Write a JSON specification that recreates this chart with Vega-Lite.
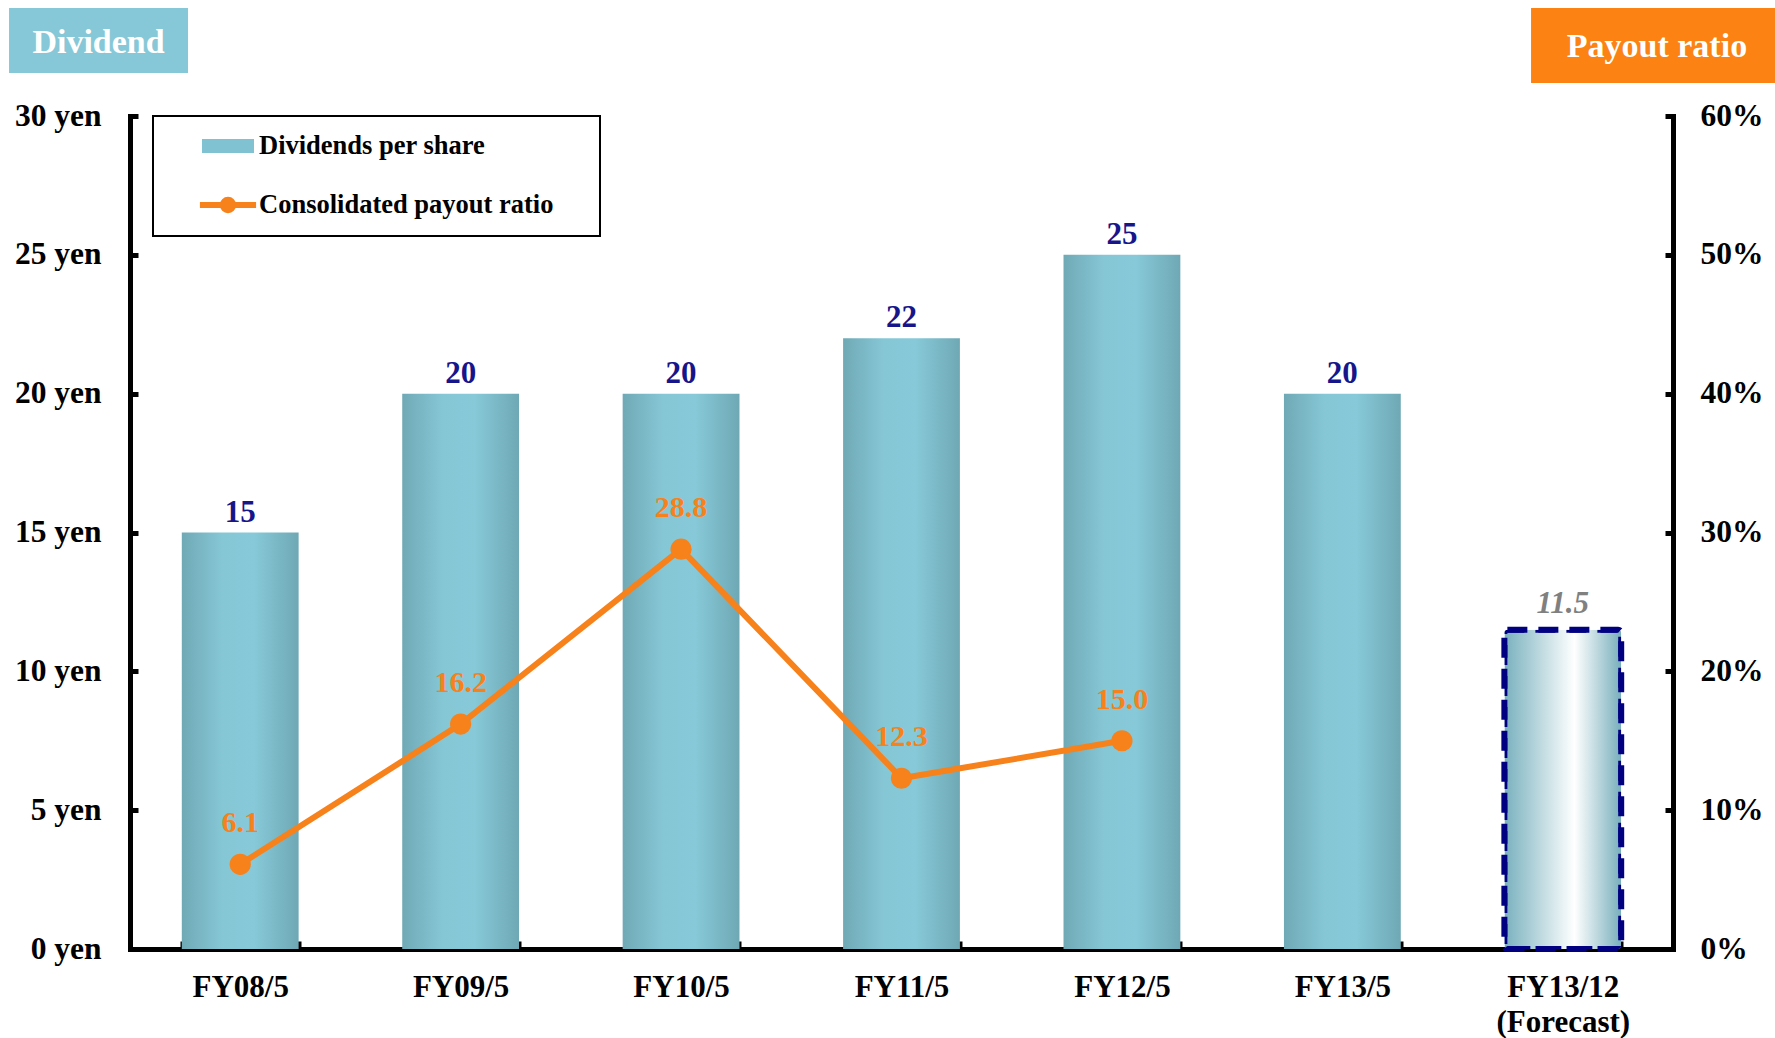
{
  "$schema": "https://vega.github.io/schema/vega-lite/v6.json",
  "width": 1543,
  "height": 833,
  "autosize": {"type": "none"},
  "padding": {"left": 130, "top": 116, "right": 102, "bottom": 89},
  "background": "white",
  "config": {
    "view": {"stroke": null},
    "font": "Liberation Serif",
    "text": {"font": "Liberation Serif", "fontWeight": "bold"}
  },
  "datasets": {
    "dividends": [
      {"fy": "FY08/5", "dividend": 15, "payout": 6.1, "status": "actual"},
      {"fy": "FY09/5", "dividend": 20, "payout": 16.2, "status": "actual"},
      {"fy": "FY10/5", "dividend": 20, "payout": 28.8, "status": "actual"},
      {"fy": "FY11/5", "dividend": 22, "payout": 12.3, "status": "actual"},
      {"fy": "FY12/5", "dividend": 25, "payout": 15.0, "status": "actual"},
      {"fy": "FY13/5", "dividend": 20, "payout": null, "status": "actual"},
      {"fy": "FY13/12", "dividend": 11.5, "payout": null, "status": "forecast"}
    ],
    "series": [
      {"series": "Dividends per share"},
      {"series": "Consolidated payout ratio"}
    ],
    "leftHeader": [{"label": "Dividend"}],
    "rightHeader": [{"label": "Payout ratio"}]
  },
  "layer": [
    {
      "layer": [
        {
          "data": {"name": "dividends"},
          "encoding": {
            "x": {
              "field": "fy",
              "type": "nominal",
              "sort": null,
              "scale": {
                "domain": ["FY08/5", "FY09/5", "FY10/5", "FY11/5", "FY12/5", "FY13/5", "FY13/12"],
                "paddingInner": 0.47,
                "paddingOuter": 0.235
              },
              "axis": {
                "title": null,
                "labelAngle": 0,
                "labelExpr": "datum.value == 'FY13/12' ? ['FY13/12', '(Forecast)'] : datum.label",
                "labelFont": "Liberation Serif",
                "labelFontSize": 31,
                "labelFontWeight": "bold",
                "labelColor": "black",
                "labelPadding": 31,
                "labelLineHeight": 35,
                "labelBaseline": "top",
                "domainColor": "black",
                "domainWidth": 5,
                "domainCap": "square",
                "tickBand": "extent",
                "tickColor": "black",
                "tickWidth": 4,
                "tickSize": -8,
                "grid": false
              }
            },
            "y": {
              "field": "dividend",
              "type": "quantitative",
              "scale": {"domain": [0, 30], "nice": false},
              "axis": {
                "orient": "left",
                "title": null,
                "values": [0, 5, 10, 15, 20, 25, 30],
                "labelExpr": "datum.value + ' yen'",
                "labelFont": "Liberation Serif",
                "labelFontSize": 31.5,
                "labelFontWeight": "bold",
                "labelColor": "black",
                "labelPadding": 37,
                "labelOverlap": false,
                "domainColor": "black",
                "domainWidth": 5,
                "domainCap": "square",
                "tickColor": "black",
                "tickWidth": 5,
                "tickSize": -8,
                "grid": false
              }
            }
          },
          "layer": [
            {
              "transform": [{"filter": "datum.status == 'actual'"}],
              "mark": {
                "type": "bar",
                "fill": {
                  "gradient": "linear",
                  "x1": 0, "y1": 0, "x2": 1, "y2": 0,
                  "stops": [
                    {"offset": 0, "color": "#70a9b6"},
                    {"offset": 0.35, "color": "#86c7d6"},
                    {"offset": 0.62, "color": "#87c9d8"},
                    {"offset": 1, "color": "#6fa8b5"}
                  ]
                }
              }
            },
            {
              "transform": [{"filter": "datum.status == 'forecast'"}],
              "mark": {
                "type": "bar",
                "fill": {
                  "gradient": "linear",
                  "x1": 0, "y1": 0, "x2": 1, "y2": 0,
                  "stops": [
                    {"offset": 0, "color": "#79b1be"},
                    {"offset": 0.6, "color": "#ffffff"},
                    {"offset": 1, "color": "#78afbc"}
                  ]
                },
                "stroke": "#000080",
                "strokeWidth": 6,
                "strokeDash": [20, 11],
                "cornerRadius": 3
              }
            },
            {
              "transform": [{"filter": "datum.status == 'actual'"}],
              "mark": {
                "type": "text",
                "baseline": "alphabetic",
                "dy": -11,
                "fontSize": 31,
                "fontWeight": "bold",
                "color": "#16168a"
              },
              "encoding": {"text": {"field": "dividend", "type": "quantitative"}}
            },
            {
              "transform": [{"filter": "datum.status == 'forecast'"}],
              "mark": {
                "type": "text",
                "baseline": "alphabetic",
                "dy": -17,
                "fontSize": 31,
                "fontWeight": "bold",
                "fontStyle": "italic",
                "color": "#808080"
              },
              "encoding": {"text": {"field": "dividend", "type": "quantitative"}}
            }
          ]
        },
        {
          "data": {"name": "dividends"},
          "transform": [{"filter": "isValid(datum.payout)"}],
          "encoding": {
            "x": {
              "field": "fy",
              "type": "nominal",
              "sort": null,
              "scale": {
                "domain": ["FY08/5", "FY09/5", "FY10/5", "FY11/5", "FY12/5", "FY13/5", "FY13/12"],
                "paddingInner": 0.47,
                "paddingOuter": 0.235
              }
            },
            "y": {
              "field": "payout",
              "type": "quantitative",
              "scale": {"domain": [0, 60], "nice": false},
              "axis": {
                "orient": "right",
                "title": null,
                "values": [0, 10, 20, 30, 40, 50, 60],
                "labelExpr": "datum.value + '%'",
                "labelFont": "Liberation Serif",
                "labelFontSize": 31.5,
                "labelFontWeight": "bold",
                "labelColor": "black",
                "labelPadding": 35,
                "labelOverlap": false,
                "domainColor": "black",
                "domainWidth": 5,
                "domainCap": "square",
                "tickColor": "black",
                "tickWidth": 5,
                "tickSize": -8,
                "grid": false
              }
            }
          },
          "layer": [
            {"mark": {"type": "line", "color": "#f7811b", "strokeWidth": 6}},
            {"mark": {"type": "point", "filled": true, "opacity": 1, "color": "#f7811b", "size": 450}},
            {
              "mark": {
                "type": "text",
                "baseline": "middle",
                "dy": -41,
                "fontSize": 30,
                "fontWeight": "bold",
                "color": "#f7811b"
              },
              "encoding": {"text": {"field": "payout", "type": "quantitative", "format": ".1f"}}
            }
          ]
        }
      ],
      "resolve": {"scale": {"y": "independent"}}
    },
    {
      "data": {"name": "series"},
      "mark": {"type": "point", "filled": true, "opacity": 0},
      "encoding": {
        "color": {
          "field": "series",
          "type": "nominal",
          "scale": {
            "domain": ["Dividends per share", "Consolidated payout ratio"],
            "range": ["#80c2d1", "#f7811b"]
          },
          "legend": {
            "orient": "none",
            "legendX": 23,
            "legendY": 0,
            "direction": "vertical",
            "title": "\u00a0",
            "titleOrient": "right",
            "titleFontSize": 119,
            "titleBaseline": "top",
            "titleAnchor": "start",
            "titlePadding": 46,
            "padding": 1,
            "strokeColor": "black",
            "symbolSize": 2704,
            "symbolStrokeWidth": 6,
            "symbolOpacity": 1,
            "symbolOffset": 45,
            "labelOffset": 2,
            "rowPadding": 10,
            "labelFont": "Liberation Serif",
            "labelFontSize": 26.5,
            "labelFontWeight": "bold",
            "labelColor": "black",
            "labelLimit": 600,
            "encode": {
              "legend": {"update": {"stroke": {"value": "black"}, "strokeWidth": {"value": 2}}},
              "symbols": {
                "update": {
                  "shape": [
                    {"test": "datum.value === 'Dividends per share'", "value": "M-1,-0.27H1V0.27H-1Z"},
                    {"value": "M-1.08,0H1.08M0.2,0A0.2,0.2,0,1,1,-0.2,0A0.2,0.2,0,1,1,0.2,0Z"}
                  ],
                  "fill": [
                    {
                      "test": "datum.value === 'Dividends per share'",
                      "value": {
                        "gradient": "linear",
                        "x1": 0, "y1": 0, "x2": 1, "y2": 0,
                        "stops": [
                          {"offset": 0, "color": "#70a9b6"},
                          {"offset": 0.45, "color": "#87c9d8"},
                          {"offset": 1, "color": "#6fa8b5"}
                        ]
                      }
                    },
                    {"value": "#f7811b"}
                  ],
                  "stroke": [
                    {"test": "datum.value === 'Dividends per share'", "value": "transparent"},
                    {"value": "#f7811b"}
                  ],
                  "strokeWidth": {"value": 6},
                  "opacity": {"value": 1},
                  "fillOpacity": {"value": 1},
                  "strokeOpacity": {"value": 1}
                }
              }
            }
          }
        }
      }
    },
    {
      "data": {"name": "leftHeader"},
      "encoding": {
        "x": {"datum": -0.0784, "type": "quantitative", "scale": {"domain": [0, 1], "nice": false, "zero": false}, "axis": null},
        "y": {"datum": 1.1297, "type": "quantitative", "scale": {"domain": [0, 1], "nice": false, "zero": false}, "axis": null}
      },
      "layer": [
        {
          "mark": {"type": "rect", "fill": "#86c8d7"},
          "encoding": {"x2": {"datum": 0.0376}, "y2": {"datum": 1.0516}}
        },
        {
          "mark": {"type": "text", "color": "white", "fontSize": 34, "fontWeight": "bold", "baseline": "middle", "align": "center"},
          "encoding": {
            "x": {"datum": -0.0204, "type": "quantitative", "scale": {"domain": [0, 1], "nice": false, "zero": false}, "axis": null},
            "y": {"datum": 1.0876, "type": "quantitative", "scale": {"domain": [0, 1], "nice": false, "zero": false}, "axis": null},
            "text": {"field": "label"}
          }
        }
      ]
    },
    {
      "data": {"name": "rightHeader"},
      "encoding": {
        "x": {"datum": 0.908, "type": "quantitative", "scale": {"domain": [0, 1], "nice": false, "zero": false}, "axis": null},
        "y": {"datum": 1.1297, "type": "quantitative", "scale": {"domain": [0, 1], "nice": false, "zero": false}, "axis": null}
      },
      "layer": [
        {
          "mark": {"type": "rect", "fill": "#fb8213"},
          "encoding": {"x2": {"datum": 1.07}, "y2": {"datum": 1.0396}}
        },
        {
          "mark": {"type": "text", "color": "white", "fontSize": 34, "fontWeight": "bold", "baseline": "middle", "align": "center"},
          "encoding": {
            "x": {"datum": 0.9896, "type": "quantitative", "scale": {"domain": [0, 1], "nice": false, "zero": false}, "axis": null},
            "y": {"datum": 1.0828, "type": "quantitative", "scale": {"domain": [0, 1], "nice": false, "zero": false}, "axis": null},
            "text": {"field": "label"}
          }
        }
      ]
    }
  ],
  "resolve": {"scale": {"x": "independent", "y": "independent"}}
}
